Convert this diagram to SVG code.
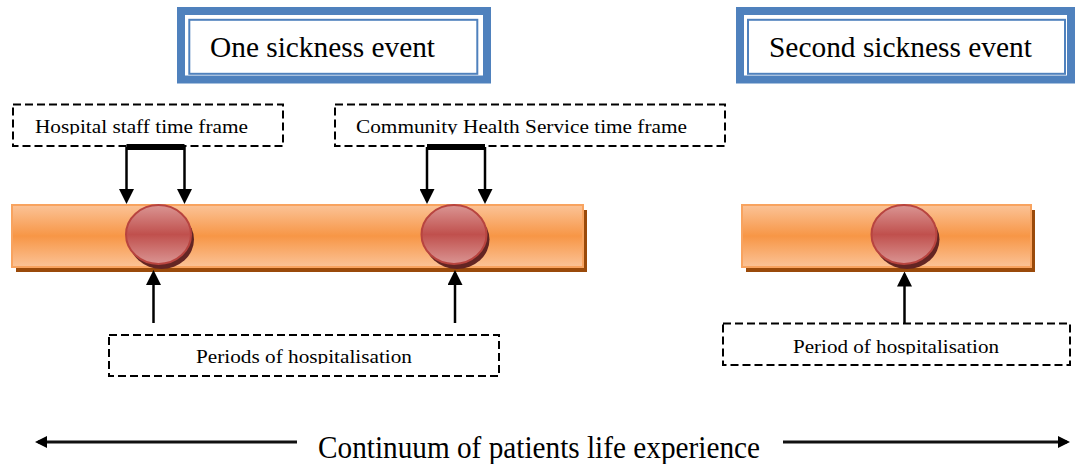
<svg xmlns="http://www.w3.org/2000/svg" width="1075" height="464" viewBox="0 0 1075 464">
  <style>
    .title { font-family: "Liberation Serif", "Times New Roman", serif; font-size: 29.5px; fill: #000; }
    .lbl { font-family: "Liberation Serif", "Times New Roman", serif; font-size: 19px; fill: #000; }
    .main { font-family: "Liberation Serif", "Times New Roman", serif; font-size: 31px; fill: #000; }
    .outer { fill: #fff; stroke: #4f81bd; stroke-width: 8; }
    .inner { fill: none; stroke: #4f81bd; stroke-width: 2; }
    .dash { fill: #fff; stroke: #000; stroke-width: 2; stroke-dasharray: 8 4; }
    .bar { fill: url(#barGrad); stroke: #f8a35f; stroke-width: 2; }
    .barShadow { fill: #9a4a0a; }
    .dot { fill: url(#dotGrad); stroke: #b8443f; stroke-width: 2; }
    .dotShadow { fill: #632523; }
    .arr { stroke: #000; stroke-width: 2.5; fill: none; marker-end: url(#ah); }
    .bracket { stroke: #000; stroke-width: 6; fill: none; }
    .long { stroke: #111; stroke-width: 3; fill: none; marker-end: url(#ahs); }
  </style>
  <defs>
    <linearGradient id="barGrad" x1="0" y1="0" x2="0" y2="1">
      <stop offset="0" stop-color="#fbc397"/>
      <stop offset="0.5" stop-color="#f79646"/>
      <stop offset="1" stop-color="#fbc397"/>
    </linearGradient>
    <linearGradient id="dotGrad" x1="0" y1="0" x2="0" y2="1">
      <stop offset="0" stop-color="#da9593"/>
      <stop offset="0.5" stop-color="#c0504d"/>
      <stop offset="1" stop-color="#da9593"/>
    </linearGradient>
    <marker id="ah" markerUnits="userSpaceOnUse" markerWidth="15" markerHeight="15" viewBox="0 0 15 15" refX="12" refY="7.5" orient="auto">
      <path d="M0,0 L15,7.5 L0,15 z" fill="#000"/>
    </marker>
    <marker id="ahs" markerUnits="userSpaceOnUse" markerWidth="12" markerHeight="12" viewBox="0 0 12 12" refX="9" refY="6" orient="auto">
      <path d="M0,0 L12,6 L0,12 z" fill="#000"/>
    </marker>
    <clipPath id="clipT"><rect x="0" y="100" width="1075" height="34.5"/></clipPath>
    <clipPath id="clipB1"><rect x="0" y="330" width="1075" height="34"/></clipPath>
    <clipPath id="clipB2"><rect x="0" y="320" width="1075" height="34.5"/></clipPath>
  </defs>

  <g id="event1">
    <rect class="outer" x="181" y="11" width="306" height="68.5"/>
    <rect class="inner" x="189.3" y="19.8" width="288" height="54"/>
    <text class="title" x="210" y="57" textLength="225" lengthAdjust="spacingAndGlyphs">One sickness event</text>
  </g>

  <g id="event2">
    <rect class="outer" x="740" y="11" width="331" height="68.5"/>
    <rect class="inner" x="748" y="19.8" width="317" height="54"/>
    <text class="title" x="769" y="57" textLength="263" lengthAdjust="spacingAndGlyphs">Second sickness event</text>
  </g>

  <g id="hospitalStaff">
    <rect class="dash" x="13" y="104.5" width="270" height="41.5"/>
    <text class="lbl" x="35" y="132.5" textLength="213" lengthAdjust="spacingAndGlyphs" clip-path="url(#clipT)">Hospital staff time frame</text>
  </g>

  <g id="communityHealth">
    <rect class="dash" x="335" y="104.5" width="390" height="41.5"/>
    <text class="lbl" x="356" y="132.5" textLength="331" lengthAdjust="spacingAndGlyphs" clip-path="url(#clipT)">Community Health Service time frame</text>
  </g>

  <g id="bar1">
    <rect class="barShadow" x="16" y="210" width="571" height="62"/>
    <rect class="bar" x="12" y="205" width="571" height="62"/>
  </g>

  <g id="bar2">
    <rect class="barShadow" x="746" y="210" width="289" height="62"/>
    <rect class="bar" x="742" y="205" width="289" height="62"/>
  </g>

  <g id="hosp1">
    <ellipse class="dotShadow" cx="161.5" cy="239.5" rx="32.5" ry="29.5"/>
    <ellipse class="dot" cx="158.5" cy="234.5" rx="32.5" ry="29.5"/>
  </g>
  <g id="hosp2">
    <ellipse class="dotShadow" cx="457" cy="239.5" rx="32.5" ry="29.5"/>
    <ellipse class="dot" cx="454" cy="234.5" rx="32.5" ry="29.5"/>
  </g>
  <g id="hosp3">
    <ellipse class="dotShadow" cx="907" cy="239.5" rx="32.5" ry="29.5"/>
    <ellipse class="dot" cx="904" cy="234.5" rx="32.5" ry="29.5"/>
  </g>

  <g id="periods">
    <rect class="dash" x="109" y="335" width="390" height="41"/>
    <text class="lbl" x="196" y="362.5" textLength="216" lengthAdjust="spacingAndGlyphs" clip-path="url(#clipB1)">Periods of hospitalisation</text>
  </g>

  <g id="period">
    <rect class="dash" x="723" y="323.5" width="347" height="41.5"/>
    <text class="lbl" x="793" y="352.5" textLength="206" lengthAdjust="spacingAndGlyphs" clip-path="url(#clipB2)">Period of hospitalisation</text>
  </g>

  <g id="continuum">
    <text class="main" x="318" y="458" textLength="442" lengthAdjust="spacingAndGlyphs">Continuum of patients life experience</text>
  </g>

  <g id="connectors">
    <line class="bracket" x1="126.5" y1="147" x2="184.5" y2="147"/>
    <line class="arr" x1="126.5" y1="147" x2="126.5" y2="201"/>
    <line class="arr" x1="184.5" y1="147" x2="184.5" y2="201"/>
    <line class="bracket" x1="427" y1="147" x2="485" y2="147"/>
    <line class="arr" x1="427" y1="147" x2="427" y2="201"/>
    <line class="arr" x1="485" y1="147" x2="485" y2="201"/>
    <line class="arr" x1="153.5" y1="323" x2="153.5" y2="273"/>
    <line class="arr" x1="455" y1="323" x2="455" y2="273"/>
    <line class="arr" x1="904.5" y1="323.5" x2="904.5" y2="274.5"/>
    <line class="long" x1="297" y1="442" x2="38" y2="442"/>
    <line class="long" x1="783" y1="442" x2="1067" y2="442"/>
  </g>
</svg>
